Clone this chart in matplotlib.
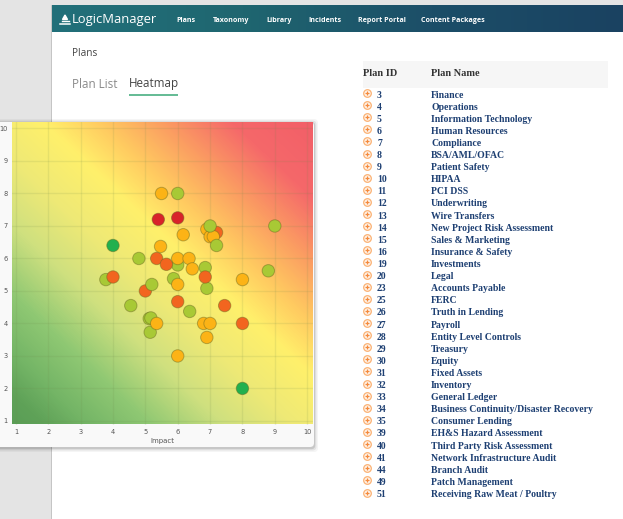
import numpy as np
import matplotlib
matplotlib.use("Agg")
import matplotlib.pyplot as plt
from matplotlib.colors import LinearSegmentedColormap
from matplotlib.patches import FancyBboxPatch, Rectangle

# nav bar and table
nav_labels = ["Plans", "Taxonomy", "Library", "Incidents", "Report Portal", "Content Packages"]
plan_ids = [3, 4, 5, 6, 7, 8, 9, 10, 11, 12, 13, 14, 15, 16, 19, 20, 23, 25, 26, 27, 28, 29,
            30, 31, 32, 33, 34, 35, 39, 40, 41, 44, 49, 51]
plan_names = ["Finance", "Operations", "Information Technology", "Human Resources", "Compliance",
              "BSA/AML/OFAC", "Patient Safety", "HIPAA", "PCI DSS", "Underwriting", "Wire Transfers",
              "New Project Risk Assessment", "Sales & Marketing", "Insurance & Safety", "Investments",
              "Legal", "Accounts Payable", "FERC", "Truth in Lending", "Payroll", "Entity Level Controls",
              "Treasury", "Equity", "Fixed Assets", "Inventory", "General Ledger",
              "Business Continuity/Disaster Recovery", "Consumer Lending", "EH&S Hazard Assessment",
              "Third Party Risk Assessment", "Network Infrastructure Audit", "Branch Audit",
              "Patch Management", "Receiving Raw Meat / Poultry"]

# risk points, in drawing order
impact = [3.78, 5.12, 5.17, 4.55, 5.87, 6.0, 6.85, 6.9, 5.15, 6.37, 8.8, 4.8, 6.0, 9.0,
          7.2, 4.0, 5.0, 5.35, 5.65, 6.85, 6.0, 7.45, 8.0,
          5.2, 5.5, 6.17, 5.47, 6.0, 6.35, 6.45, 6.0, 8.0, 5.35, 6.8, 7.0, 6.9, 6.0,
          6.9, 7.0, 7.1, 7.0, 7.2, 5.4, 6.0, 4.0, 8.0]
likelihood = [5.35, 4.15, 4.17, 4.55, 5.38, 5.8, 5.72, 5.08, 3.73, 4.37, 5.62, 6.0, 8.0, 7.0,
              6.8, 5.43, 5.0, 6.0, 5.82, 5.43, 4.67, 4.55, 4.0,
              5.2, 8.0, 6.73, 6.37, 6.0, 6.0, 5.68, 5.2, 5.35, 4.0, 4.0, 4.0, 3.57, 3.0,
              6.9, 6.67, 6.67, 7.0, 6.4, 7.2, 7.25, 6.4, 2.0]
levels = ["lime"] * 14 + ["orange"] * 9 + ["lime"] + ["amber"] * 16 + ["lime"] * 2 + ["red"] * 2 + ["green"] * 2
level_colors = {"green": "#22b04e", "lime": "#a8c935", "amber": "#fcb316",
                "orange": "#f2651f", "red": "#d8232a"}

# background gradient, corner to corner
grad_stops = [0.0, 0.05, 0.12, 0.22, 0.34, 0.45, 0.565, 0.66, 0.76, 0.87, 1.0]
grad_colors = ["#5a9e56", "#5fa258", "#74b566", "#8fc873", "#cfe07f", "#eee976", "#fff06b",
               "#ffc960", "#fb9c62", "#f5686a", "#f25f68"]

fig = plt.figure(figsize=(6.23, 5.19), dpi=100, facecolor="#e4e4e4")
W, H = 623, 519

# screenshot page, in pixels
page = fig.add_axes([0, 0, 1, 1])
page.axis("off")

page.add_patch(Rectangle((51, 5), W - 51, H, fc="white", ec="#c4c4c4", lw=0.7))

# teal to navy header
header = np.linspace(0, 1, 256).reshape(1, -1)
header_cmap = LinearSegmentedColormap.from_list("hdr", ["#22707a", "#1f6670", "#1c4e68", "#1a4261"])
page.imshow(header, extent=(52, W, 32, 5.5), aspect="auto", cmap=header_cmap, zorder=1)
page.set_xlim(0, W)
page.set_ylim(H, 0)

# logo
page.plot([60, 70], [23.5, 23.5], color="white", lw=1.1, zorder=2)
page.plot([61.5, 68.5], [21, 21], color="white", lw=1.0, zorder=2)
page.fill([62.5, 67.5, 65], [19.5, 19.5, 15], color="white", zorder=2)
page.text(72, 20, "LogicManager", family="Open Sans", fontsize=9.4, color="white",
          va="center", ha="left", zorder=3)
nav_x = [176, 213, 266, 308, 358, 421]
for x, label in zip(nav_x, nav_labels):
    page.text(x, 20, label, family="Open Sans", weight="bold", fontsize=5.1, color="white",
              va="center", ha="left", zorder=3)

page.text(72, 53, "Plans", family="Open Sans", fontsize=7.2, color="#444444", va="center")
page.text(72, 84, "Plan List", family="Open Sans", fontsize=8.4, color="#8a8a8a", va="center")
page.text(129, 84, "Heatmap", family="Open Sans", fontsize=8.4, color="#444444", va="center")
page.plot([129, 177.5], [94.5, 94.5], color="#63bb94", lw=1.4, solid_capstyle="butt")

# table
page.add_patch(Rectangle((363, 61), 245, 27, fc="#f6f6f6", ec="none"))
page.text(363, 73.5, "Plan ID", family="Liberation Serif", weight="bold", fontsize=7.4, color="#333333", va="center")
page.text(431, 73.5, "Plan Name", family="Liberation Serif", weight="bold", fontsize=7.4, color="#333333", va="center")
row_y = np.linspace(95, 494.5, len(plan_ids))
for y, pid, name in zip(row_y, plan_ids, plan_names):
    page.scatter([367], [y - 2], s=30, fc="#fff4ea", ec="#fbb274", lw=0.9, zorder=3)
    page.scatter([367], [y - 2], s=7, marker="+", color="#f58a3c", lw=0.9, zorder=4)
    page.text(377, y, str(pid), family="Liberation Serif", weight="bold", fontsize=7.0, color="#1d3f72", va="center")
    page.text(431, y, name, family="Liberation Serif", weight="bold", fontsize=7.0, color="#1d3f72", va="center")

# chart card with soft shadow
for grow, alpha in [(4, 0.04), (2.5, 0.07), (1.2, 0.12)]:
    page.add_patch(FancyBboxPatch((-8 - grow, 122 - grow + 1), 322 + 2 * grow, 325 + 2 * grow,
                                  boxstyle="round,pad=0,rounding_size=4", fc="black", ec="none",
                                  alpha=alpha, zorder=5))
page.add_patch(FancyBboxPatch((-8, 122), 322, 325, boxstyle="round,pad=0,rounding_size=4",
                              fc="#f9f9f9", ec="none", zorder=6))

left, right, top, bottom = 12, 313, 122, 424.5
ax = fig.add_axes([left / W, 1 - bottom / H, (right - left) / W, (bottom - top) / H], zorder=10)
ax.patch.set_alpha(0)
x0, x1, y0, y1 = 0.88, 10.18, 0.89, 10.2

k = 1.07
xx, yy = np.meshgrid(np.linspace(x0, x1, 300), np.linspace(y0, y1, 300))
t = (xx + yy * k - (x0 + y0 * k)) / (x1 + y1 * k - (x0 + y0 * k))
cmap = LinearSegmentedColormap.from_list("risk", list(zip(grad_stops, grad_colors)))
ax.imshow(t, extent=(x0, x1, y0, y1), origin="lower", aspect="auto", cmap=cmap, vmin=0, vmax=1, zorder=0)

ax.set_xlim(x0, x1)
ax.set_ylim(y0, y1)
ax.set_xticks(range(1, 11))
ax.set_yticks(range(1, 11))
ax.grid(True, color="#6f8a4a", alpha=0.13, lw=1.0, zorder=1)
ax.tick_params(length=0, labelsize=4.8, labelcolor="#555555", pad=3)
for spine in ax.spines.values():
    spine.set_visible(False)
ax.set_xlabel("Impact", fontsize=5.0, color="#555555", labelpad=2.5)

ax.scatter(impact, likelihood, s=80, c=[level_colors[v] for v in levels],
           edgecolors=(0.4, 0.4, 0.12, 0.45), linewidths=0.7, zorder=3)

fig.savefig("out.png", dpi=100, facecolor=fig.get_facecolor())
